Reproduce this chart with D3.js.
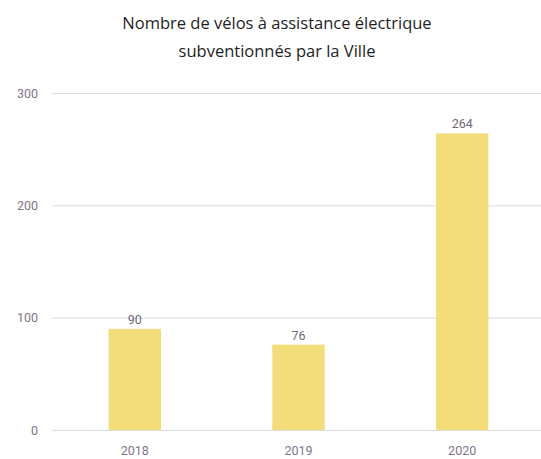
<!DOCTYPE html>
<html>
<head>
<meta charset="utf-8">
<script src="https://cdn.jsdelivr.net/npm/d3@7"></script>
<style>
  body { margin: 0; background: #fff; }
</style>
</head>
<body>
<div id="chart"></div>
<script>
const years = ["2018", "2019", "2020"];
const bikes = [90, 76, 264];
const yTicks = [0, 100, 200, 300];
const titleLines = ["Nombre de vélos à assistance électrique", "subventionnés par la Ville"];

var width = 541;
var height = 459;
var margin = ({top: 93, right: 0, bottom: 29, left: 52});

var svg = d3.select("#chart")
    .append("svg")
        .attr("width", width)
        .attr("height", height);

var x = d3.scaleBand()
    .domain(years)
    .range([53, 544])
    .paddingInner(0.68)
    .paddingOuter(0.34);

var y = d3.scaleLinear()
    .domain([0, 300])
    .range([height - margin.bottom, margin.top]);

// title
svg.append("g")
    .selectAll("text")
    .data(titleLines)
    .join("text")
        .attr("x", 277)
        .attr("y", (d, i) => 29 + i * 28)
        .attr("text-anchor", "middle")
        .attr("font-family", "Open Sans, sans-serif")
        .attr("font-size", 16.5)
        .attr("fill", "#1e1e1e")
        .text(d => d);

// grid + y labels
svg.append("g")
    .attr("transform", `translate(${margin.left},0)`)
    .call(d3.axisLeft(y).tickValues(yTicks).tickSize(-(width - margin.left)).tickPadding(14))
    .call(g => g.select(".domain").remove())
    .call(g => g.selectAll(".tick line").attr("stroke", "#dddae0"))
    .call(g => g.selectAll(".tick text")
        .attr("fill", "#7d7689")
        .attr("font-family", "Roboto, sans-serif")
        .attr("font-size", 12.5));

// x labels
svg.append("g")
    .attr("transform", `translate(0,${height - margin.bottom})`)
    .call(d3.axisBottom(x).tickSize(0).tickPadding(16))
    .call(g => g.select(".domain").remove())
    .call(g => g.selectAll(".tick text")
        .attr("fill", "#7d7689")
        .attr("font-family", "Roboto, sans-serif")
        .attr("font-size", 12.5));

// bars
svg.append("g")
    .selectAll("rect")
    .data(bikes)
    .join("rect")
        .attr("x", (d, i) => x(years[i]))
        .attr("y", d => y(d))
        .attr("width", x.bandwidth())
        .attr("height", d => y(0) - y(d))
        .attr("fill", "#f3dd7a");

// value labels
svg.append("g")
    .selectAll("text")
    .data(bikes)
    .join("text")
        .attr("x", (d, i) => x(years[i]) + x.bandwidth() / 2)
        .attr("y", d => y(d) - 5)
        .attr("text-anchor", "middle")
        .attr("fill", "#6e6878")
        .attr("font-family", "Roboto, sans-serif")
        .attr("font-size", 12.5)
        .text(d => d);
</script>
</body>
</html>
